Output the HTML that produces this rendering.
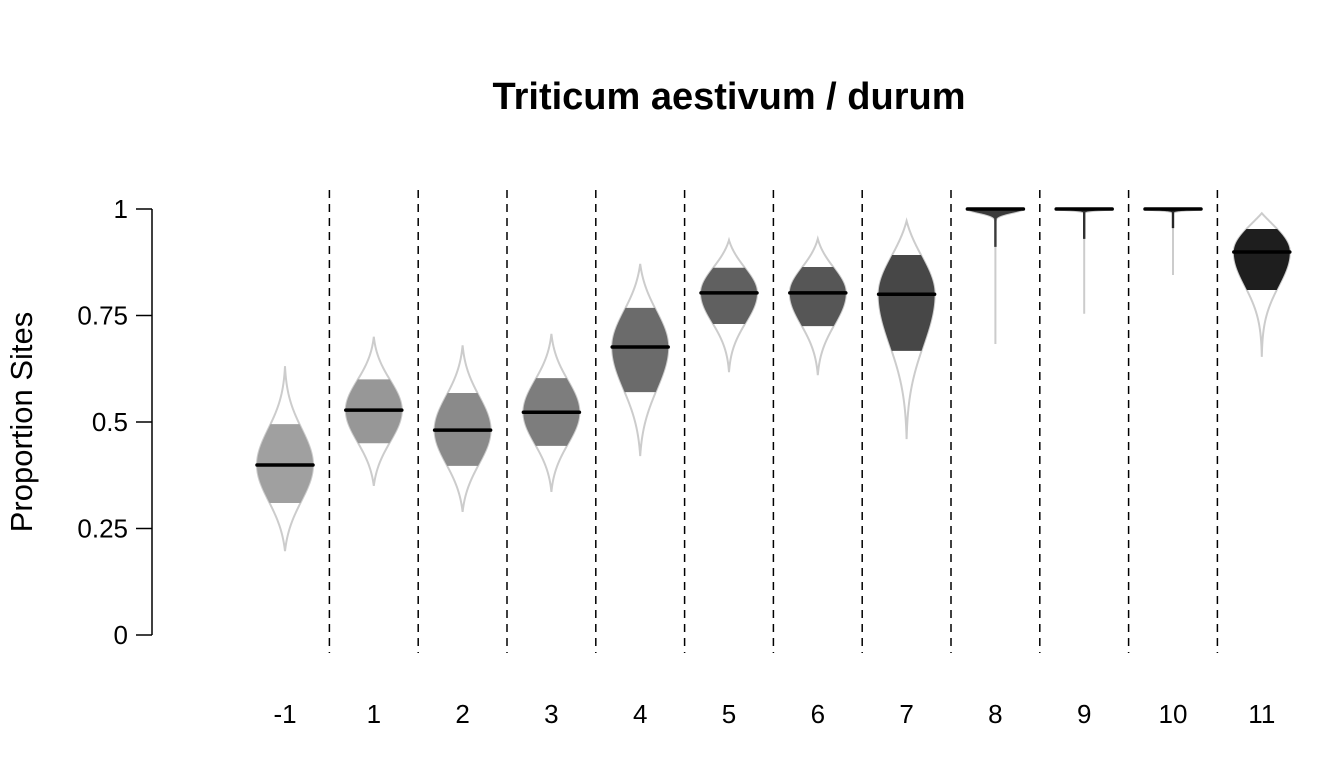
<!DOCTYPE html>
<html><head><meta charset="utf-8"><style>
body{margin:0;background:#fff}
svg{display:block;font-family:"Liberation Sans",Arial,sans-serif}
</style></head><body>
<svg id="chart" width="1344" height="768" viewBox="0 0 1344 768">
<text x="729" y="109" text-anchor="middle" font-size="38" font-weight="bold">Triticum aestivum / durum</text>
<text transform="translate(32,422) rotate(-90)" text-anchor="middle" font-size="31">Proportion Sites</text>
<g id="axis"></g>
<g id="grid"></g>
<g id="violins"></g>
<g id="xlabels"></g>
</svg>
<script>
const categories = ["-1","1","2","3","4","5","6","7","8","9","10","11"];
const minVals = [0.197,0.35,0.289,0.336,0.42,0.617,0.61,0.46,0.683,0.754,0.845,0.653];
const q1Vals = [0.31,0.45,0.397,0.444,0.570,0.730,0.725,0.667,0.911,0.93,0.955,0.81];
const medianVals = [0.399,0.528,0.481,0.523,0.676,0.803,0.803,0.80,1.0,1.0,1.0,0.899];
const q3Vals = [0.495,0.60,0.568,0.603,0.768,0.862,0.864,0.892,1.0,1.0,1.0,0.953];
const maxVals = [0.631,0.70,0.68,0.707,0.871,0.927,0.93,0.972,1.0,1.0,1.0,0.99];
const sdLow = [0.085,0.075,0.08,0.075,0.1,0.07,0.075,0.12,0.009,0.003,0.003,0.08];
const sdHigh = [0.085,0.07,0.08,0.075,0.085,0.06,0.06,0.09,0.01,0.01,0.01,0.07];
const fills = ["#a0a0a0","#979797","#8a8a8a","#7d7d7d","#6b6b6b","#606060","#565656","#474747","#3a3a3a","#303030","#262626","#1e1e1e"];
const yTicks = [0,0.25,0.5,0.75,1];
const yTickLabels = ["0","0.25","0.5","0.75","1"];

const NS="http://www.w3.org/2000/svg";
const y = v => 635 - v*426;
const x = i => 285 + i*88.8;
const W = 28;
function mk(tag, attrs, parent){const e=document.createElementNS(NS,tag);for(const k in attrs)e.setAttribute(k,attrs[k]);parent.appendChild(e);return e;}

const axis=document.getElementById('axis');
const l=mk('line',{x1:152,x2:152,y1:y(1),y2:y(0),stroke:'#000','stroke-width':1.5},axis);


yTicks.forEach((t,i)=>{
  const tk=mk('line',{x1:136,x2:152,y1:y(t),y2:y(t),stroke:'#000','stroke-width':1.5},axis);
  
  
  const tx=mk('text',{x:128,y:y(t)+9,'text-anchor':'end','font-size':26},axis);
  
  
  tx.textContent=yTickLabels[i];
});

const grid=document.getElementById('grid');
for(let i=0;i<categories.length-1;i++){
  const gx=(x(i)+x(i+1))/2;
  const d=mk('line',{x1:gx,x2:gx,y1:190,y2:653,stroke:'#000','stroke-width':1.5,'stroke-dasharray':'8,6'},grid);
  
  
}

const vg=document.getElementById('violins');
const xl=document.getElementById('xlabels');
categories.forEach((c,i)=>{
  const cx=x(i), med=medianVals[i];
  const gfun=(v,s)=>Math.exp(-0.5*Math.pow((v-med)/s,2));
  const hw=v=>{
    if(v<med){const s=sdLow[i],e=gfun(minVals[i],s);return W*Math.max(0,(gfun(v,s)-e)/(1-e));}
    const s=sdHigh[i];if(maxVals[i]<=med+1e-9)return W*gfun(v,s);
    const e=gfun(maxVals[i],s);return W*Math.max(0,(gfun(v,s)-e)/(1-e));
  };
  const g=mk('g',{},vg);
  
  
  const N=200;
  let L=[],R=[];
  for(let k=0;k<=N;k++){const v=minVals[i]+(maxVals[i]-minVals[i])*k/N;const w=hw(v);L.push([cx-w,y(v)]);R.push([cx+w,y(v)]);}
  const pts=L.concat(R.reverse()).map(p=>p[0].toFixed(2)+','+p[1].toFixed(2)).join(' ');
  const o=mk('polygon',{points:pts,fill:'none',stroke:'#cccccc','stroke-width':2},g);
  
  
  L=[];R=[];
  for(let k=0;k<=N;k++){const v=q1Vals[i]+(q3Vals[i]-q1Vals[i])*k/N;const w=Math.max(hw(v),1.2);L.push([cx-w,y(v)]);R.push([cx+w,y(v)]);}
  const p2=L.concat(R.reverse()).map(p=>p[0].toFixed(2)+','+p[1].toFixed(2)).join(' ');
  const f=mk('polygon',{points:p2,fill:fills[i]},g);
  
  
  const m=mk('line',{x1:cx-W,x2:cx+W,y1:y(med),y2:y(med),stroke:'#000','stroke-width':3.5,'stroke-linecap':'round'},g);
  
  
  const t=mk('text',{x:cx,y:723,'text-anchor':'middle','font-size':26},xl);
  
  
  t.textContent=c;
});
</script>
</body></html>
